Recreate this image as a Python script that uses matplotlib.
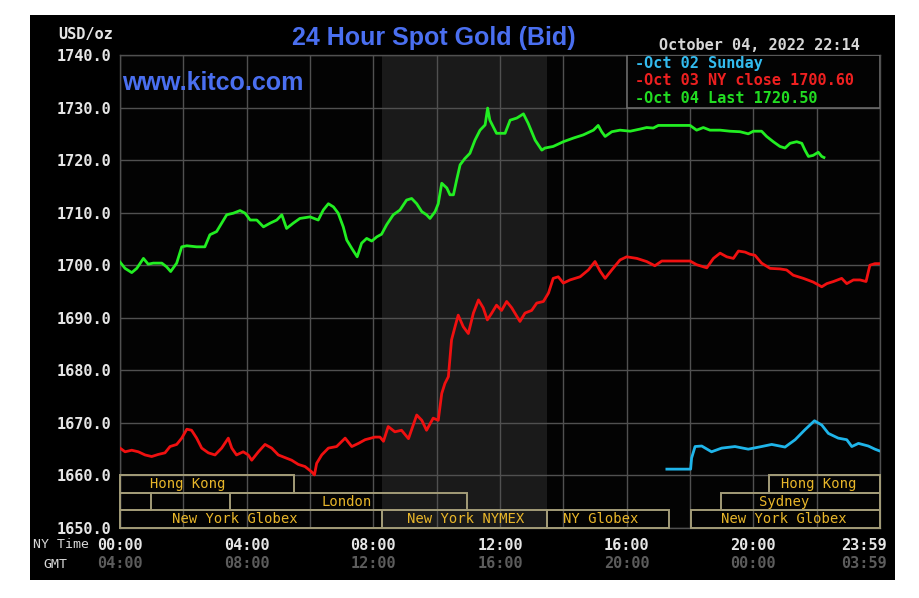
import matplotlib
matplotlib.use('Agg')
import matplotlib.pyplot as plt
from matplotlib.patches import Rectangle
import matplotlib.transforms as mtransforms

# ---------------- data ----------------
# Oct 04 (green) - decimal NY hours and bid prices
oct04_hours = [0.00, 0.16, 0.37, 0.53, 0.74, 0.89, 1.05, 1.32, 1.47, 1.60, 1.79, 1.95, 2.11, 2.42,
               2.68, 2.84, 3.05, 3.21, 3.37, 3.58, 3.79, 3.95, 4.11, 4.32, 4.53, 4.74, 4.95, 5.11,
               5.26, 5.47, 5.68, 6.00, 6.26, 6.42, 6.58, 6.74, 6.89, 7.05, 7.16, 7.32, 7.49, 7.63,
               7.79, 7.95, 8.11, 8.26, 8.42, 8.63, 8.84, 9.05, 9.21, 9.37, 9.53, 9.68, 9.79, 9.95,
               10.05, 10.16, 10.32, 10.42, 10.53, 10.63, 10.74, 10.89, 11.05, 11.21, 11.37, 11.53,
               11.61, 11.68, 11.89, 12.16, 12.32, 12.53, 12.74, 12.89, 13.11, 13.32, 13.42, 13.68,
               14.00, 14.32, 14.63, 14.95, 15.10, 15.21, 15.32, 15.53, 15.79, 16.11, 16.42, 16.63,
               16.84, 17.00, 18.00, 18.21, 18.42, 18.63, 18.95, 19.26, 19.58, 19.84, 20.00, 20.26,
               20.42, 20.63, 20.84, 21.00, 21.16, 21.37, 21.53, 21.63, 21.74, 21.89, 22.05, 22.16,
               22.23]
oct04_values = [1700.6, 1699.4, 1698.6, 1699.4, 1701.3, 1700.2, 1700.4, 1700.4, 1699.7, 1698.8,
                1700.4, 1703.5, 1703.7, 1703.5, 1703.5, 1705.8, 1706.4, 1708.0, 1709.6, 1709.9,
                1710.4, 1709.9, 1708.6, 1708.6, 1707.3, 1708.0, 1708.6, 1709.6, 1707.0, 1708.0,
                1708.9, 1709.2, 1708.6, 1710.5, 1711.7, 1711.1, 1709.9, 1707.3, 1704.8, 1703.2,
                1701.6, 1704.2, 1705.1, 1704.6, 1705.4, 1705.9, 1707.7, 1709.6, 1710.5, 1712.4,
                1712.7, 1711.7, 1710.2, 1709.6, 1708.9, 1710.2, 1711.7, 1715.6, 1714.7, 1713.4,
                1713.4, 1716.2, 1719.1, 1720.3, 1721.3, 1723.8, 1725.7, 1726.7, 1729.9, 1727.6,
                1725.1, 1725.1, 1727.6, 1728.0, 1728.8, 1727.0, 1723.8, 1721.9, 1722.3, 1722.6,
                1723.5, 1724.2, 1724.8, 1725.7, 1726.6, 1725.4, 1724.5, 1725.4, 1725.7, 1725.5,
                1725.9, 1726.2, 1726.1, 1726.6, 1726.6, 1725.7, 1726.2, 1725.7, 1725.7, 1725.5,
                1725.4, 1725.0, 1725.5, 1725.5, 1724.5, 1723.5, 1722.6, 1722.3, 1723.2, 1723.5,
                1723.2, 1721.9, 1720.7, 1720.9, 1721.5, 1720.7, 1720.5]

# Oct 03 (red)
oct03_hours = [0.00, 0.16, 0.37, 0.58, 0.79, 1.00, 1.21, 1.42, 1.58, 1.79, 1.95, 2.11, 2.26, 2.42,
               2.58, 2.79, 3.00, 3.21, 3.42, 3.53, 3.68, 3.89, 4.05, 4.16, 4.37, 4.58, 4.79, 5.00,
               5.21, 5.42, 5.63, 5.84, 6.05, 6.14, 6.21, 6.37, 6.58, 6.84, 7.11, 7.32, 7.53, 7.74,
               8.05, 8.21, 8.32, 8.47, 8.68, 8.89, 9.11, 9.37, 9.53, 9.68, 9.89, 10.05, 10.16, 10.26,
               10.37, 10.47, 10.58, 10.68, 10.84, 11.00, 11.16, 11.32, 11.47, 11.60, 11.74, 11.89,
               12.05, 12.21, 12.37, 12.63, 12.79, 13.00, 13.16, 13.37, 13.53, 13.68, 13.84, 14.00,
               14.21, 14.53, 14.79, 15.00, 15.16, 15.32, 15.53, 15.79, 16.00, 16.32, 16.63, 16.89,
               17.11, 18.00, 18.21, 18.53, 18.74, 18.95, 19.16, 19.37, 19.53, 19.74, 19.89, 20.05,
               20.26, 20.53, 20.84, 21.05, 21.26, 21.58, 21.89, 22.16, 22.32, 22.53, 22.79, 22.95,
               23.16, 23.37, 23.56, 23.68, 23.84, 23.98]
oct03_values = [1665.2, 1664.5, 1664.8, 1664.5, 1663.9, 1663.6, 1664.0, 1664.3, 1665.5, 1665.9,
                1667.1, 1668.8, 1668.6, 1667.1, 1665.2, 1664.3, 1663.9, 1665.2, 1667.1, 1665.2,
                1663.9, 1664.5, 1663.9, 1662.9, 1664.5, 1665.9, 1665.2, 1663.9, 1663.4, 1662.9,
                1662.1, 1661.7, 1660.7, 1660.1, 1662.3, 1663.9, 1665.2, 1665.5, 1667.1, 1665.5,
                1666.1, 1666.8, 1667.3, 1667.3, 1666.5, 1669.3, 1668.3, 1668.6, 1667.0, 1671.5,
                1670.5, 1668.6, 1670.9, 1670.5, 1675.6, 1677.5, 1678.8, 1685.8, 1688.3, 1690.5,
                1688.3, 1687.0, 1690.9, 1693.4, 1691.9, 1689.6, 1690.9, 1692.4, 1691.4, 1693.1,
                1691.9, 1689.3, 1690.9, 1691.4, 1692.8, 1693.1, 1694.7, 1697.5, 1697.8, 1696.6,
                1697.2, 1697.8, 1699.1, 1700.7, 1698.9, 1697.5, 1699.1, 1701.0, 1701.6, 1701.3,
                1700.7, 1699.9, 1700.8, 1700.8, 1700.1, 1699.5, 1701.3, 1702.3, 1701.6, 1701.3,
                1702.7, 1702.5, 1702.1, 1701.9, 1700.4, 1699.4, 1699.3, 1699.1, 1698.1, 1697.5,
                1696.8, 1695.9, 1696.5, 1696.9, 1697.5, 1696.5, 1697.2, 1697.2, 1696.9, 1700.0,
                1700.3, 1700.3]

# Oct 02 Sunday (cyan)
oct02_hours = [17.27, 18.02, 18.05, 18.16, 18.37, 18.68, 19.00, 19.42, 19.84, 20.26, 20.58, 21.00,
               21.32, 21.63, 21.93, 22.16, 22.37, 22.68, 22.95, 23.11, 23.32, 23.63, 23.84, 23.97]
oct02_values = [1661.2, 1661.2, 1663.3, 1665.5, 1665.6, 1664.5, 1665.2, 1665.5, 1665.0, 1665.5,
                1665.9, 1665.4, 1666.8, 1668.7, 1670.4, 1669.6, 1668.0, 1667.1, 1666.8, 1665.5,
                1666.1, 1665.6, 1665.0, 1664.7]

legend_labels = ['-Oct 02 Sunday', '-Oct 03 NY close 1700.60', '-Oct 04 Last 1720.50']
y_ticks = [1650, 1660, 1670, 1680, 1690, 1700, 1710, 1720, 1730, 1740]
x_tick_hours = [0, 4, 8, 12, 16, 20]
ny_labels = ['00:00', '04:00', '08:00', '12:00', '16:00', '20:00']
gmt_labels = ['04:00', '08:00', '12:00', '16:00', '20:00', '00:00']

# trading sessions: (name, start hour, end hour, row, label hour)
session_names = ['Hong Kong', 'Hong Kong', '', 'London', 'Sydney',
                 'New York Globex', 'New York NYMEX', 'NY Globex', 'New York Globex']
session_start = [0.0, 20.5, 0.0, 3.47, 18.97, 0.0, 8.27, 13.5, 18.03]
session_end = [5.5, 24.0, 0.97, 10.95, 24.0, 8.27, 13.5, 17.33, 24.0]
session_row = [0, 0, 1, 1, 1, 2, 2, 2, 2]
session_label_at = [2.15, 22.05, 0.5, 7.17, 20.97, 3.64, 10.9, 15.19, 20.97]
nymex_span = (8.27, 13.5)

# ---------------- figure ----------------
W, H = 920, 598
fig = plt.figure(figsize=(W / 100, H / 100), dpi=100)
fig.patch.set_facecolor('white')
fig.patches.append(Rectangle((30 / W, 1 - 580 / H), 865 / W, 565 / H, transform=fig.transFigure,
                             facecolor='black', edgecolor='none', zorder=-5))

ax = fig.add_axes([120 / W, 1 - 528 / H, 760 / W, 473 / H])
ax.set_zorder(2)
ax.set_facecolor('#030303')
ax.set_xlim(0, 24)
ax.set_ylim(1650, 1740)

grid_c = '#505050'
ax.set_xticks(range(0, 25, 2))
ax.set_yticks(y_ticks)
ax.grid(True, color=grid_c, lw=1.0, zorder=1)
ax.set_axisbelow(True)
for s in ax.spines.values():
    s.set_color(grid_c)
    s.set_linewidth(1.0)
ax.tick_params(length=0)
ax.set_xticklabels([])
ax.set_yticklabels([f'{v:.1f}' for v in y_ticks], fontfamily='DejaVu Sans Mono',
                   fontweight='bold', fontsize=11, color='#e6e6e6')
ax.tick_params(axis='y', pad=6)

ax.axvspan(nymex_span[0], nymex_span[1], color='#1a1a1a', zorder=0.5, lw=0)

ax.plot(oct02_hours, oct02_values, color='#1fb5ea', lw=2.0, zorder=3)
ax.plot(oct03_hours, oct03_values, color='#f01010', lw=2.0, zorder=3)
ax.plot(oct04_hours, oct04_values, color='#22ee22', lw=2.0, zorder=3)

# session boxes
row_h = 10.0 / 3
box_ec = '#a39c78'
txt_c = '#e8b62a'
for name, s0, s1, r, lab in zip(session_names, session_start, session_end, session_row, session_label_at):
    top = 1660 - r * row_h
    ax.add_patch(Rectangle((s0, top - row_h), s1 - s0, row_h, fill=False, ec=box_ec, lw=1.4,
                           zorder=4, clip_on=False))
    if name:
        ax.text(lab, top - row_h / 2, name, ha='center', va='center', color=txt_c,
                fontfamily='DejaVu Sans Mono', fontsize=10, zorder=5)

# legend box
ax.add_patch(Rectangle((16.0, 1730.0), 8.0, 10.0, facecolor='#030303', ec='#6a6a6a', lw=1.2, zorder=6))
leg_colors = ['#33bbee', '#ee2020', '#22dd22']
leg_y = [1738.3, 1735.1, 1731.8]
for lab, c, yy in zip(legend_labels, leg_colors, leg_y):
    ax.text(16.25, yy, lab, ha='left', va='center', color=c, fontfamily='DejaVu Sans Mono',
            fontweight='bold', fontsize=11, zorder=7)

# x labels
bt = mtransforms.blended_transform_factory(ax.transData, fig.transFigure)
for h, a, b in zip(x_tick_hours, ny_labels, gmt_labels):
    ax.text(h, 1 - 545 / H, a, transform=bt, ha='center', va='center', color='#e6e6e6',
            fontfamily='DejaVu Sans Mono', fontweight='bold', fontsize=11)
    ax.text(h, 1 - 564 / H, b, transform=bt, ha='center', va='center', color='#5c5c5c',
            fontfamily='DejaVu Sans Mono', fontweight='bold', fontsize=11)
fig.text(887 / W, 1 - 545 / H, '23:59', ha='right', va='center', color='#e6e6e6',
         fontfamily='DejaVu Sans Mono', fontweight='bold', fontsize=11)
fig.text(887 / W, 1 - 564 / H, '03:59', ha='right', va='center', color='#5c5c5c',
         fontfamily='DejaVu Sans Mono', fontweight='bold', fontsize=11)
fig.text(33 / W, 1 - 545 / H, 'NY Time', ha='left', va='center', color='#d8d8d8',
         fontfamily='DejaVu Sans Mono', fontsize=9.5)
fig.text(55 / W, 1 - 564 / H, 'GMT', ha='center', va='center', color='#d8d8d8',
         fontfamily='DejaVu Sans Mono', fontsize=9.5)

# header texts
fig.text(113 / W, 1 - 35 / H, 'USD/oz', ha='right', va='center', color='#e6e6e6',
         fontfamily='DejaVu Sans Mono', fontweight='bold', fontsize=11)
fig.text(434 / W, 1 - 38 / H, '24 Hour Spot Gold (Bid)', ha='center', va='center',
         color='#4a6ff0', fontfamily='Liberation Sans', fontweight='bold', fontsize=18)
fig.text(122 / W, 1 - 83 / H, 'www.kitco.com', ha='left', va='center',
         color='#4a6ff0', fontfamily='Liberation Sans', fontweight='bold', fontsize=18)
fig.text(759 / W, 1 - 45 / H, 'October 04, 2022 22:14', ha='center', va='center',
         color='#d6d6d6', fontfamily='DejaVu Sans Mono', fontweight='bold', fontsize=11)

fig.savefig('out.png', dpi=100, facecolor=fig.get_facecolor())
